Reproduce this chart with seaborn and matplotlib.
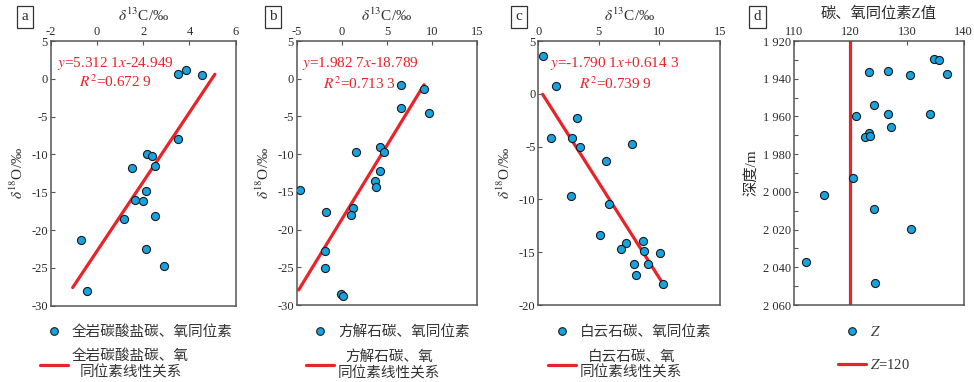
import matplotlib
matplotlib.use("Agg")
import matplotlib.pyplot as plt
import seaborn as sns
from matplotlib.ticker import MultipleLocator, FuncFormatter
from matplotlib.lines import Line2D

# --- panel a: whole-rock carbonate C/O isotopes ---
a_c13 = [3.5, 3.85, 4.55, 3.5, 2.15, 2.4, 2.5, 1.5, 2.1, 1.65, 2.0, 2.5, 1.15, -0.7, 2.1, 2.9, -0.45]
a_o18 = [0.6, 1.1, 0.55, -7.9, -10.0, -10.2, -11.5, -11.8, -14.8, -16.0, -16.2, -18.1, -18.5, -21.3, -22.5, -24.7, -28.1]
a_fit_x = [-1.05, 5.1]
a_fit_y = [-27.6, 0.6]

# --- panel b: calcite ---
b_c13 = [6.6, 9.05, 6.55, 9.7, 4.2, 1.6, 4.7, 4.2, 3.7, 3.8, -4.6, -1.8, 1.2, 1.0, -1.85, -1.85, -0.1, 0.1]
b_o18 = [-0.8, -1.4, -3.85, -4.5, -9.05, -9.7, -9.65, -12.3, -13.6, -14.3, -14.75, -17.7, -17.1, -18.1, -22.85, -25.1, -28.6, -28.8]
b_fit_x = [-4.78, 9.1]
b_fit_y = [-28.0, -0.8]

# --- panel c: dolomite ---
c_c13 = [0.35, 1.45, 3.2, 1.05, 2.8, 3.45, 7.7, 5.55, 2.7, 5.85, 5.1, 8.65, 7.2, 6.8, 8.75, 10.05, 7.9, 9.05, 8.05, 10.3]
c_o18 = [3.55, 0.75, -2.25, -4.2, -4.2, -5.0, -4.8, -6.35, -9.7, -10.45, -13.35, -13.95, -14.15, -14.7, -14.9, -15.05, -16.15, -16.1, -17.15, -18.0]
c_fit_x = [0.36, 10.3]
c_fit_y = [-0.05, -18.0]

# --- panel d: Z value vs depth ---
d_z = [134.8, 135.7, 123.35, 126.7, 130.6, 137.0, 124.2, 121.0, 126.7, 134.1, 127.2,
       123.3, 122.65, 123.5, 120.4, 115.3, 124.2, 130.75, 112.2, 124.4]
d_depth = [1929.4, 1930.1, 1936.3, 1935.7, 1937.9, 1937.3, 1954.1, 1959.9, 1958.7, 1958.9, 1965.4,
           1968.6, 1970.9, 1970.5, 1992.6, 2001.7, 2009.2, 2019.8, 2037.3, 2048.2]
z_ref = 120

PANEL_LETTERS = ["a", "b", "c", "d"]
LEG_POINTS = ["全岩碳酸盐碳、氧同位素", "方解石碳、氧同位素", "白云石碳、氧同位素", r"$Z$"]
LEG_LINES = ["全岩碳酸盐碳、氧\n同位素线性关系", "方解石碳、氧\n同位素线性关系", "白云石碳、氧\n同位素线性关系", r"$Z$=120"]
EQ_1 = [r"$y$=5.312 1$x$-24.949", r"$y$=1.982 7$x$-18.789", r"$y$=-1.790 1$x$+0.614 3"]
EQ_2 = [r"$R^2$=0.672 9", r"$R^2$=0.713 3", r"$R^2$=0.739 9"]

BLUE = "#18A2E0"
RED = "#E8232A"
INK = "#2b2b2b"

sns.set_theme(style="ticks")
plt.rcParams["font.family"] = ["Liberation Serif", "Noto Sans CJK SC", "DejaVu Sans"]
plt.rcParams["mathtext.fontset"] = "stix"
plt.rcParams["axes.unicode_minus"] = False

W, H = 974, 382
fig = plt.figure(figsize=(W / 100, H / 100), dpi=100)


def px_axes(left, right, top, bottom):
    return fig.add_axes([left / W, 1 - bottom / H, (right - left) / W, (bottom - top) / H])


ax_a = px_axes(50.7, 235.7, 41, 305.7)
ax_b = px_axes(296.7, 477.3, 41, 305)
ax_c = px_axes(538.3, 720, 41, 305)
ax_d = px_axes(793.7, 963.7, 41, 305)
axes = [ax_a, ax_b, ax_c, ax_d]


def style_axis(ax):
    ax.xaxis.tick_top()
    ax.xaxis.set_label_position("top")
    ax.tick_params(direction="in", length=3, width=0.8, colors="#555555",
                   labelcolor=INK, labelsize=9, pad=2)
    ax.tick_params(axis="x", top=True, bottom=False, labeltop=True, labelbottom=False)
    ax.tick_params(axis="y", left=True, right=False)
    for sp in ax.spines.values():
        sp.set_color("#555555")
        sp.set_linewidth(1.1)
    ax.grid(False)


scatter_kw = dict(color=BLUE, edgecolor="#1a1a1a", linewidth=0.8, s=34, zorder=3, legend=False)

datasets = [
    (ax_a, a_c13, a_o18, a_fit_x, a_fit_y, (-2, 6, 2), (-30, 5, 5)),
    (ax_b, b_c13, b_o18, b_fit_x, b_fit_y, (-5, 15, 5), (-30, 5, 5)),
    (ax_c, c_c13, c_o18, c_fit_x, c_fit_y, (0, 15, 5), (-20, 5, 5)),
]
eq_pos = [(0.348, 0.916, 0.847), (0.35, 0.916, 0.84), (0.422, 0.915, 0.84)]

for i, (ax, xs, ys, fx, fy, xl, yl) in enumerate(datasets):
    sns.lineplot(x=fx, y=fy, ax=ax, color=RED, linewidth=2.3, zorder=2)
    sns.scatterplot(x=xs, y=ys, ax=ax, **scatter_kw)
    ax.set_xlim(xl[0], xl[1])
    ax.set_ylim(yl[0], yl[1])
    ax.xaxis.set_major_locator(MultipleLocator(xl[2]))
    ax.yaxis.set_major_locator(MultipleLocator(yl[2]))
    style_axis(ax)
    ax.set_xlabel(r"$\delta^{13}$C/‰", fontsize=11, color=INK, labelpad=4)
    ax.set_ylabel(r"$\delta^{18}$O/‰", fontsize=11, color=INK, labelpad=4)
    ex, ey1, ey2 = eq_pos[i]
    ax.text(ex, ey1, EQ_1[i], transform=ax.transAxes, ha="center", va="center",
            color=RED, fontsize=11)
    ax.text(ex, ey2, EQ_2[i], transform=ax.transAxes, ha="center", va="center",
            color=RED, fontsize=11)

# panel d
ax_d.axvline(z_ref, color=RED, linewidth=2.3, zorder=2)
sns.scatterplot(x=d_z, y=d_depth, ax=ax_d, **scatter_kw)
ax_d.set_xlim(110, 140)
ax_d.set_ylim(2060, 1920)
ax_d.xaxis.set_major_locator(MultipleLocator(10))
ax_d.yaxis.set_major_locator(MultipleLocator(20))
ax_d.yaxis.set_minor_locator(MultipleLocator(10))
ax_d.yaxis.set_major_formatter(FuncFormatter(lambda v, p: f"{int(v) // 1000} {int(v) % 1000:03d}"))
style_axis(ax_d)
ax_d.tick_params(axis="y", which="minor", direction="in", length=3, width=0.8, colors="#555555")
ax_d.set_xlabel("碳、氧同位素Z值", fontsize=11, color=INK, labelpad=6)
ax_d.set_ylabel("深度/m", fontsize=11, color=INK, labelpad=3)

# panel letters in boxes
letter_x = [25, 273, 519, 757.7]
for lx, letter in zip(letter_x, PANEL_LETTERS):
    fig.text(lx / W, 1 - 17 / H, letter, ha="center", va="center", fontsize=11, color=INK,
             bbox=dict(boxstyle="square,pad=0.3", facecolor="white", edgecolor="#333333", linewidth=0.9))

# legends below each panel
leg_left = [40, 306, 548, 838]
leg_spacing = [0.75, 0.75, 0.75, 1.3]
for ax, lx, lp, ll, sp in zip(axes, leg_left, LEG_POINTS, LEG_LINES, leg_spacing):
    h_pt = Line2D([], [], linestyle="none", marker="o", markersize=5.5,
                  markerfacecolor=BLUE, markeredgecolor="#1a1a1a", markeredgewidth=0.8)
    h_ln = Line2D([], [], color=RED, linewidth=2.3)
    leg = fig.legend([h_pt, h_ln], [lp, ll], loc="upper left",
                     bbox_to_anchor=(lx / W, 1 - 325 / H), bbox_transform=fig.transFigure,
                     frameon=False, fontsize=10.5, handlelength=1.95, handletextpad=0.25,
                     labelspacing=sp, borderpad=0, borderaxespad=0)
    for t in leg.get_texts():
        t.set_multialignment("center")
        t.set_color("#333333")

fig.savefig("out.png", dpi=100)
